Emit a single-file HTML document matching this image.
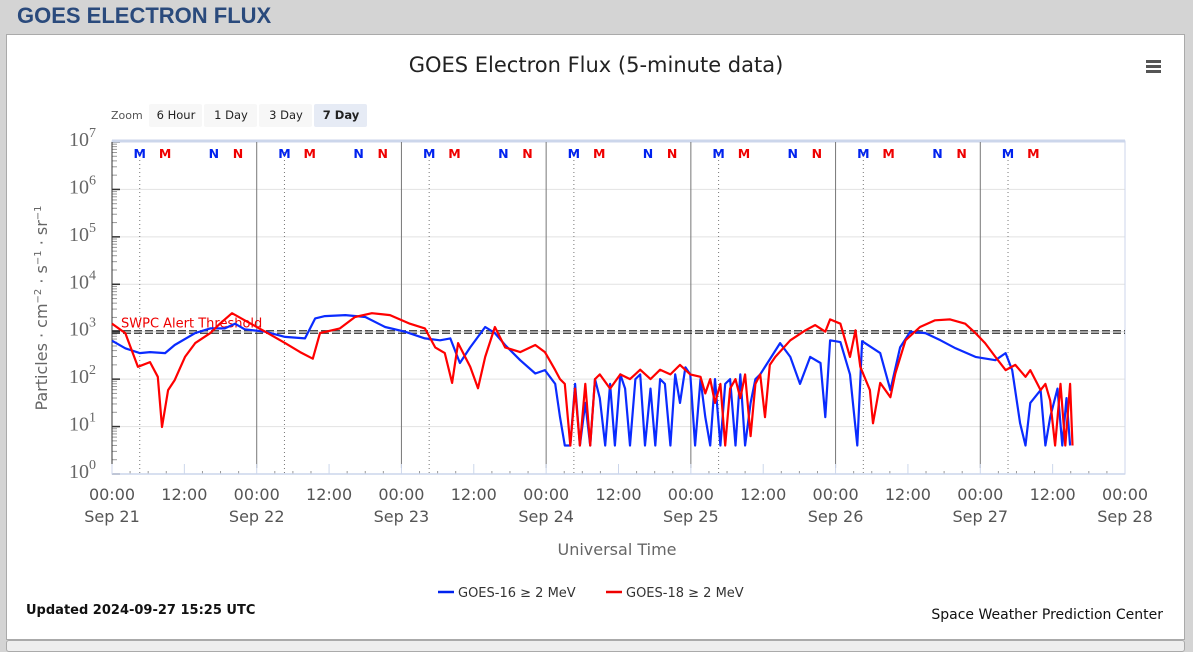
<!DOCTYPE html>
<html><head><meta charset="utf-8">
<style>
html,body{margin:0;padding:0;width:1193px;height:646px;overflow:hidden;background:#d4d4d4;font-family:"Liberation Sans","DejaVu Sans",sans-serif;}
#hdr{position:absolute;left:0;top:0;width:1193px;height:33px;background:#d4d4d4;}
#hdr span{position:absolute;left:17px;top:3px;font-size:22px;font-weight:bold;color:#2a4a7c;}
#panel{position:absolute;left:6px;top:34px;width:1177px;height:604px;background:#fff;border:1px solid #aaa;}
#bottom{position:absolute;left:6px;top:640px;width:1177px;height:10px;background:#eee;border:1px solid #aaa;border-radius:3px;}
svg{position:absolute;left:0;top:0;}
</style></head>
<body>
<div id="hdr"><span>GOES ELECTRON FLUX</span></div>
<div id="panel"></div>
<div id="bottom"></div>
<svg id="chart" width="1193" height="646" font-family="DejaVu Sans, Liberation Sans, sans-serif"></svg>
<script>
// ---- data ----
const dayLabels = ["Sep 21","Sep 22","Sep 23","Sep 24","Sep 25","Sep 26","Sep 27","Sep 28"];
const yTickExps = [0,1,2,3,4,5,6,7];
const thresholdFlux = 1000;
const g16Hours = [0,2.2,4.6,6.3,8.8,10.4,13.8,16.3,18.7,20.4,22.0,25.4,28.7,32.0,33.7,35.3,38.7,42.0,45.3,48.6,51.9,54.4,56.1,57.7,59.4,61.9,63.5,65.2,67.7,70.2,71.8,73.5,74.3,75.1,76.0,76.8,77.6,78.5,79.3,80.1,80.9,81.8,82.6,83.4,84.3,85.1,85.9,86.8,87.6,88.4,89.3,90.1,90.9,91.7,92.6,93.4,94.2,95.1,95.9,96.7,97.6,98.4,99.2,100.0,100.9,101.7,102.5,103.4,104.2,105.0,105.9,106.7,107.5,110.8,112.5,114.1,115.8,117.5,118.3,119.1,120.8,122.4,123.6,124.4,127.4,129.1,130.7,132.4,134.9,137.4,139.9,143.2,146.5,148.2,149.3,150.6,151.5,152.3,154.0,154.8,155.6,156.8,157.6,158.3,158.9];
const g16LogFlux = [2.81,2.65,2.55,2.57,2.55,2.72,2.97,3.07,3.07,3.17,3.05,3.0,2.89,2.86,3.28,3.33,3.35,3.31,3.1,3.0,2.86,2.82,2.86,2.34,2.67,3.1,2.97,2.72,2.4,2.12,2.19,1.9,1.2,0.6,0.6,1.9,0.6,1.5,0.6,2.0,1.6,0.6,1.9,0.6,2.1,1.8,0.6,2.0,2.1,0.6,1.8,0.6,2.0,1.9,0.6,2.1,1.5,2.25,2.1,0.6,2.0,1.2,0.6,2.0,0.6,1.9,2.0,0.6,2.1,0.6,1.5,2.0,2.1,2.76,2.47,1.9,2.47,2.34,1.2,2.82,2.78,2.1,0.6,2.8,2.55,1.77,2.67,3.0,2.97,2.82,2.65,2.47,2.4,2.55,2.19,1.07,0.6,1.5,1.77,0.6,1.2,1.8,0.6,1.6,0.6];
const g18Hours = [0,2.2,4.3,6.3,7.6,8.3,9.3,10.4,12.1,13.8,16.3,17.9,19.9,22.0,25.4,28.7,31.2,33.3,34.5,37.8,40.3,43.1,46.1,49.4,51.9,53.6,55.2,56.4,57.4,59.4,60.7,61.9,63.5,65.2,67.7,70.2,71.8,73.5,74.3,75.1,76.0,76.8,77.6,78.5,79.3,80.1,80.9,82.6,84.3,85.9,87.6,89.3,90.9,92.6,94.2,95.9,97.6,98.4,99.2,100.0,100.9,101.7,102.5,103.4,104.2,105.0,105.9,106.7,107.5,108.3,109.1,110.0,112.5,115.0,116.6,118.3,119.1,120.8,122.4,123.3,124.1,125.7,126.2,127.4,129.1,129.9,131.6,134.0,136.5,139.0,141.5,143.2,144.8,146.5,148.2,149.8,151.5,152.3,154.0,154.8,155.6,156.4,157.3,158.1,158.9,159.3];
const g18LogFlux = [3.17,2.97,2.26,2.36,2.05,0.99,1.77,1.98,2.47,2.76,2.97,3.17,3.39,3.24,3.0,2.76,2.57,2.43,2.97,3.07,3.31,3.39,3.35,3.17,3.07,2.67,2.55,1.92,2.76,2.26,1.81,2.47,3.1,2.67,2.57,2.72,2.57,2.19,2.0,1.9,0.6,1.8,0.6,1.9,0.6,2.0,2.1,1.8,2.1,2.0,2.2,2.0,2.2,2.1,2.3,2.1,2.05,1.7,2.0,1.5,1.9,0.6,1.8,2.0,1.6,2.1,0.8,1.9,2.1,1.2,2.3,2.47,2.82,3.03,3.14,3.0,3.26,3.17,2.47,3.03,2.26,1.77,1.07,1.92,1.62,2.12,2.82,3.1,3.24,3.26,3.17,2.97,2.76,2.47,2.19,2.3,2.05,2.19,1.77,1.9,1.55,0.6,1.9,0.6,1.9,0.6];
const markerLetters = ["M","M","N","N"];
const markerHours = [4.6,8.8,16.9,20.9];
const markerColors = ["#0022ee","#ee0000","#0022ee","#ee0000"];

// ---- layout ----
const L=112,R=1125,T=142,B=474;
const xScale = h => L + (R-L)*h/(7*24);
const yScale = lg => B - (B-T)*lg/7;
const svg = document.getElementById('chart');
const NS="http://www.w3.org/2000/svg";
function mk(tag, attrs, parent){const e=document.createElementNS(NS,tag);for(const k in attrs)e.setAttribute(k,attrs[k]);(parent||svg).appendChild(e);return e;}

// title
let t=mk('text',{x:596,y:72,'text-anchor':'middle','font-size':21,fill:'#222','font-family':'DejaVu Sans, sans-serif'});
t.textContent='GOES Electron Flux (5-minute data)';


// menu
const menu=mk('g',{});


[61,66,71].forEach(yy=>mk('rect',{x:1146,y:yy-1,width:15,height:3,fill:'#555'},menu));

// zoom buttons
let zl=mk('text',{x:111,y:119,'font-size':11,fill:'#555'});zl.textContent='Zoom';


const zbs=[["6 Hour",149,54],["1 Day",204,54],["3 Day",259,54],["7 Day",314,54]];
zbs.forEach((b,i)=>{const g=mk('g',{});


mk('rect',{x:b[1],y:104,width:b[2]-1,height:23,rx:2,fill:i==3?'#e6ebf5':'#f7f7f7'},g);
const tx=mk('text',{x:b[1]+b[2]/2,y:119,'text-anchor':'middle','font-size':11.5,fill:'#222','font-weight':i==3?'bold':'normal'},g);tx.textContent=b[0];});

// grid
for(const e of yTickExps){
  if(e>0&&e<7){const g=mk('line',{x1:L,x2:R,y1:yScale(e),y2:yScale(e),stroke:'#e2e2e2','stroke-width':1});
  
  }
  for(let m=2;m<=9&&e<7;m++){const yy=yScale(e+Math.log10(m));mk('line',{x1:L,x2:L+5,y1:yy,y2:yy,stroke:'#999','stroke-width':1});}
  mk('line',{x1:L,x2:L+8,y1:yScale(e),y2:yScale(e),stroke:'#333','stroke-width':1.5});
  const lab=mk('text',{x:96,y:yScale(e)+4,'text-anchor':'end','font-size':20,fill:'#666','font-family':'Liberation Serif, serif'});
  
  
  lab.textContent='10';const sp=mk('tspan',{dy:-9,'font-size':14},lab);sp.textContent=String(e);
}
// plot border
mk('rect',{x:L,y:T-1,width:R-L,height:B-T+1,fill:'none',stroke:'#ccd6eb','stroke-width':1});
mk('line',{x1:L,x2:R,y1:T-1,y2:T-1,stroke:'#ccd6eb','stroke-width':3});
mk('line',{x1:L,x2:L,y1:T,y2:B,stroke:'#333','stroke-width':1});
// day lines, markers
for(let d=0;d<7;d++){
  const x0=xScale(d*24);
  if(d>0){const v=mk('line',{x1:x0,x2:x0,y1:T,y2:B-6,stroke:'#777','stroke-width':1});
  
  }
  const dx=xScale(d*24+markerHours[0]);
  mk('line',{x1:dx,x2:dx,y1:T+10,y2:B,stroke:'#777','stroke-width':1,'stroke-dasharray':'1,3'});
  markerLetters.forEach((m,i)=>{const h=d*24+markerHours[i]; if(h>160)return;
    const tx=mk('text',{x:xScale(h),y:158,'text-anchor':'middle','font-size':12.5,'font-weight':'bold',fill:markerColors[i]});
    
    
    tx.textContent=m;});
}
// x axis ticks & labels
for(let h=0;h<=168;h+=3){const x=xScale(h);mk('line',{x1:x,x2:x,y1:B-(h%12==0?10:3),y2:B,stroke:h%12==0?'#ccd6eb':'#999','stroke-width':1});}
mk('line',{x1:L,x2:R,y1:B,y2:B,stroke:'#ccd6eb','stroke-width':1.5});
for(let h=0;h<=168;h+=12){const x=xScale(h);
  const a=mk('text',{x:x,y:500,'text-anchor':'middle','font-size':16,fill:'#555'});
  
  
  a.textContent=(h%24==0?'00':'12')+':00';
  if(h%24==0){const b=mk('text',{x:x,y:522,'text-anchor':'middle','font-size':16,fill:'#555'});
  
  
  b.textContent=dayLabels[h/24];}
}
let xt=mk('text',{x:617,y:555,'text-anchor':'middle','font-size':16,fill:'#666'});


xt.textContent='Universal Time';
let yt=mk('text',{x:0,y:0,'text-anchor':'middle','font-size':16,fill:'#666',transform:'translate(47,308) rotate(-90)'});


yt.innerHTML='Particles · cm<tspan dy="-6" font-size="10">−2</tspan><tspan dy="6"> · s</tspan><tspan dy="-6" font-size="10">−1</tspan><tspan dy="6"> · sr</tspan><tspan dy="-6" font-size="10">−1</tspan>';

// threshold
const ty=yScale(Math.log10(thresholdFlux));
let th1=mk('line',{x1:L,x2:R,y1:ty-1,y2:ty-1,stroke:'#333','stroke-width':1.3,'stroke-dasharray':'8,3'});


mk('line',{x1:L,x2:R,y1:ty+1.5,y2:ty+1.5,stroke:'#333','stroke-width':1.3,'stroke-dasharray':'8,3'});
let tl=mk('text',{x:121,y:ty-4,'font-size':13,fill:'#e00'});


tl.textContent='SWPC Alert Threshold';

// series
function series(hours,vals,color,name){
  const d=hours.map((h,i)=>(i?'L':'M')+xScale(h).toFixed(1)+','+yScale(vals[i]).toFixed(1)).join('');
  const p=mk('path',{d:d,fill:'none',stroke:color,'stroke-width':2.2,'stroke-linejoin':'round'});
  
  
}
series(g16Hours,g16LogFlux,'#0a2bff','goes16-series');
series(g18Hours,g18LogFlux,'#ff0000','goes18-series');

// legend
[[438,'#0022ee','GOES-16 ≥ 2 MeV'],[606,'#ee0000','GOES-18 ≥ 2 MeV']].forEach((l,i)=>{
  const g=mk('g',{});
  
  
  mk('line',{x1:l[0],x2:l[0]+16,y1:592,y2:592,stroke:l[1],'stroke-width':2.5},g);
  const tx=mk('text',{x:l[0]+20,y:597,'font-size':13,fill:'#333'},g);tx.textContent=l[2];});
let up=mk('text',{x:26,y:614,'font-size':13,'font-weight':'bold',fill:'#111'});


up.textContent='Updated 2024-09-27 15:25 UTC';
let cr=mk('text',{x:1163,y:619,'text-anchor':'end','font-size':14,fill:'#111'});


cr.textContent='Space Weather Prediction Center';
</script>
</body></html>
